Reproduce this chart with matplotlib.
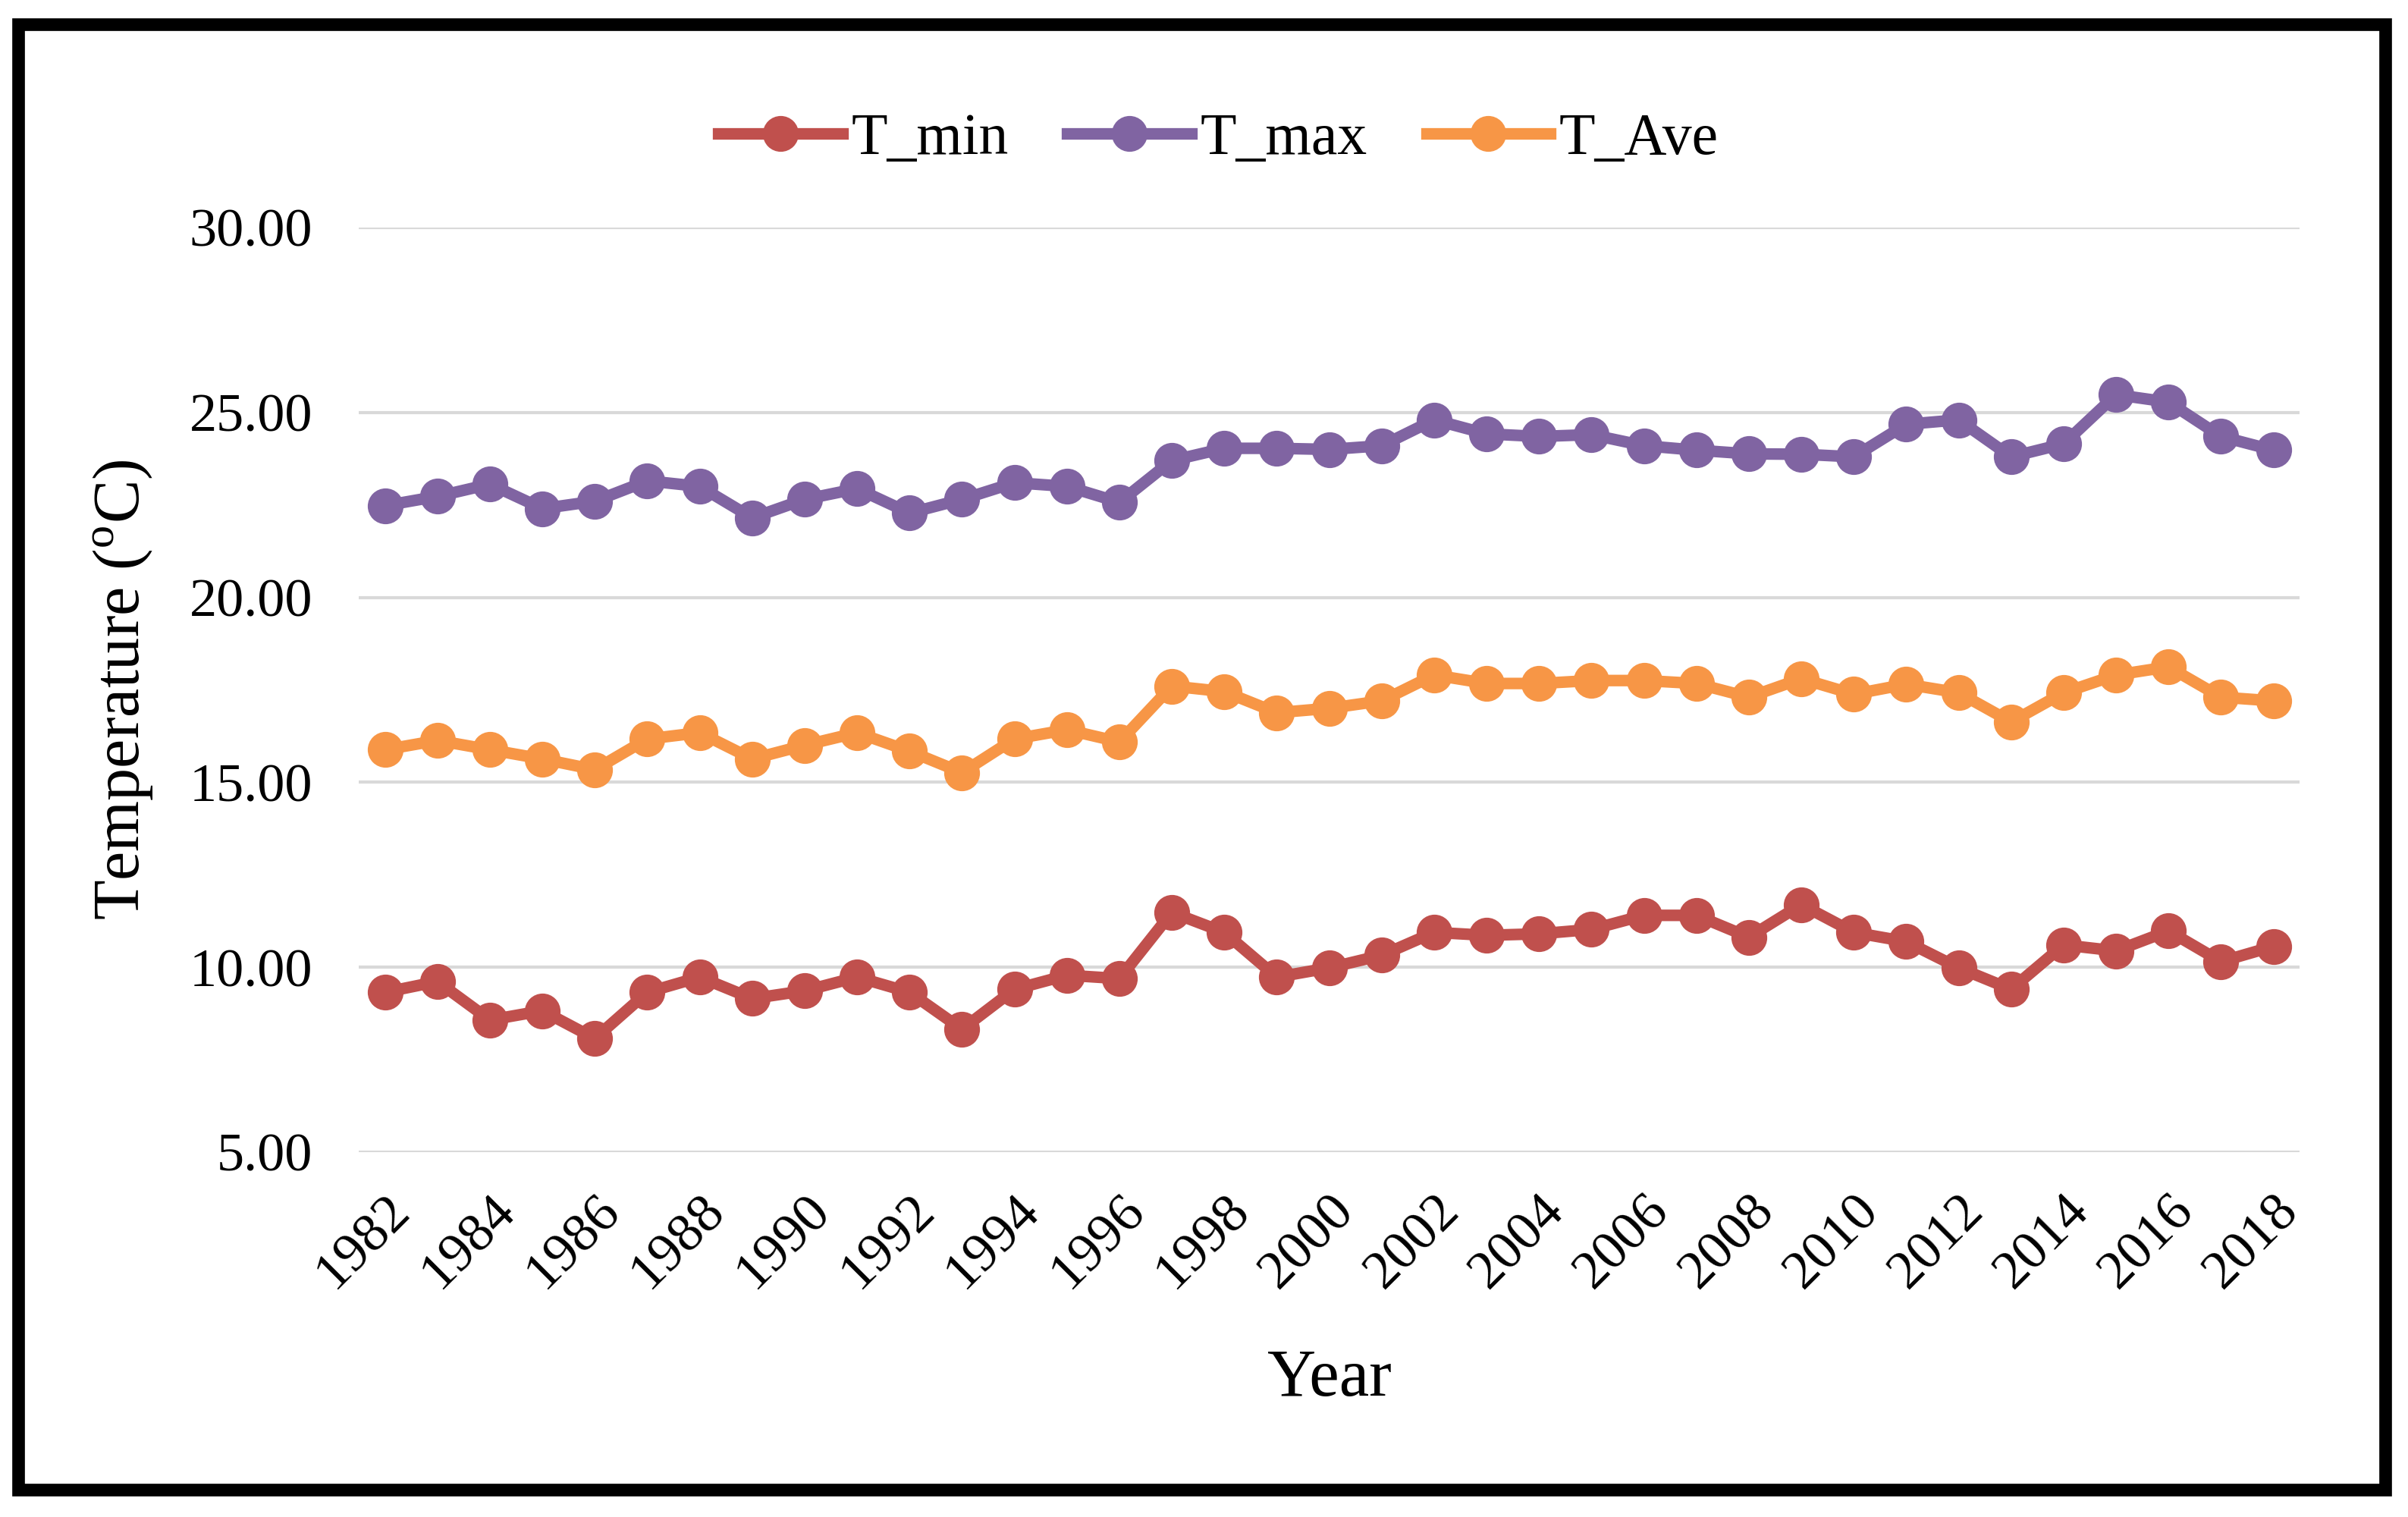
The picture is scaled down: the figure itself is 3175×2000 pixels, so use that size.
import matplotlib
matplotlib.use('Agg')
import matplotlib.pyplot as plt
from matplotlib.patches import Rectangle

years = list(range(1982, 2019))
t_min = [9.32, 9.61, 8.57, 8.82, 8.07, 9.32, 9.73, 9.15, 9.36, 9.73,
         9.32, 8.32, 9.40, 9.78, 9.69, 11.48, 10.94, 9.73, 9.98, 10.32,
         10.94, 10.86, 10.90, 11.02, 11.40, 11.40, 10.81, 11.69, 10.94, 10.69,
         9.98, 9.40, 10.60, 10.44, 10.98, 10.15, 10.56]
t_max = [22.48, 22.73, 23.06, 22.40, 22.60, 23.15, 23.00, 22.15, 22.65, 22.94,
         22.28, 22.65, 23.10, 23.00, 22.57, 23.70, 24.03, 24.03, 24.00, 24.10,
         24.80, 24.42, 24.35, 24.40, 24.10, 23.98, 23.88, 23.87, 23.80, 24.68,
         24.80, 23.80, 24.15, 25.48, 25.28, 24.35, 23.98]
t_ave = [15.88, 16.13, 15.88, 15.63, 15.34, 16.17, 16.34, 15.63, 16.00, 16.34,
         15.84, 15.26, 16.17, 16.42, 16.09, 17.60, 17.45, 16.88, 17.00, 17.20,
         17.90, 17.67, 17.67, 17.75, 17.75, 17.67, 17.30, 17.80, 17.38, 17.65,
         17.42, 16.63, 17.42, 17.90, 18.12, 17.30, 17.20]
y_ticks = [5, 10, 15, 20, 25, 30]

plt.rcParams['font.family'] = ['Liberation Serif', 'DejaVu Serif']
plt.rcParams['mathtext.fontset'] = 'custom'
plt.rcParams['mathtext.rm'] = 'Liberation Serif'

fig = plt.figure(figsize=(15.875, 10), dpi=200)
ax = fig.add_axes([0.149, 0.2406, 0.806, 0.6094])

series = [('T_min', t_min, '#C0504D'),
          ('T_max', t_max, '#8064A2'),
          ('T_Ave', t_ave, '#F79646')]
for name, vals, col in series:
    ax.plot(years, vals, '-o', color=col, lw=5.5, ms=16, label=name)

ax.set_xlim(1981.5, 2018.5)
ax.set_ylim(5, 30)
ax.set_yticks(y_ticks)
ax.set_yticklabels([f'{v:.2f}' for v in y_ticks], fontsize=26)
ax.set_xticks(years[::2])
ax.set_xticklabels([str(y) for y in years[::2]], rotation=45, ha='right',
                   rotation_mode='anchor', fontsize=26)
ax.tick_params(axis='y', length=0, pad=22)
ax.tick_params(axis='x', length=0, pad=16)
ax.grid(axis='y', color='#D9D9D9', lw=1.5)
ax.set_axisbelow(True)
for s in ax.spines.values():
    s.set_visible(False)

ax.set_xlabel('Year', fontsize=32, labelpad=24)
ax.set_ylabel(r'Temperature ($^{\mathrm{o}}$C)', fontsize=31, labelpad=16)

fig.legend(loc='center', bbox_to_anchor=(0.506, 0.908), ncol=3, frameon=False,
           fontsize=28, handlelength=2.1, columnspacing=1.0, handletextpad=0.15)

# thick black frame around the whole chart
fig.patches.append(Rectangle((0.0075, 0.018), 0.983, 0.966, transform=fig.transFigure,
                             fill=False, edgecolor='black', lw=6))

fig.savefig('out.png', dpi=200)
